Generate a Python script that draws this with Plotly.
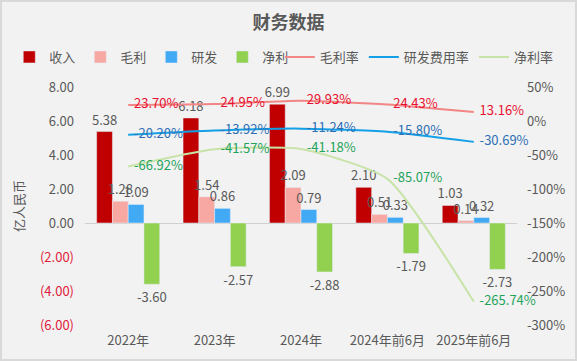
import plotly.graph_objects as go

categories = ["2022年", "2023年", "2024年", "2024年前6月", "2025年前6月"]
revenue = [5.38, 6.18, 6.99, 2.10, 1.03]
gross_profit = [1.28, 1.54, 2.09, 0.51, 0.14]
rnd = [1.09, 0.86, 0.79, 0.33, 0.32]
net_profit = [-3.60, -2.57, -2.88, -1.79, -2.73]
gross_margin = [23.70, 24.95, 29.93, 24.43, 13.16]
rnd_ratio = [-20.20, -13.92, -11.24, -15.80, -30.69]
net_margin = [-66.92, -41.57, -41.18, -85.07, -265.74]

left_ticks = [8, 6, 4, 2, 0, -2, -4, -6]
left_ticktext = ["8.00", "6.00", "4.00", "2.00", "0.00",
                 "<span style='color:#E0203A'>(2.00)</span>",
                 "<span style='color:#E0203A'>(4.00)</span>",
                 "<span style='color:#E0203A'>(6.00)</span>"]
right_ticks = [50, 0, -50, -100, -150, -200, -250, -300]
right_ticktext = ["50%", "0%", "-50%", "-100%", "-150%", "-200%", "-250%", "-300%"]

FONT = "Noto Sans CJK SC, Microsoft YaHei, sans-serif"
GRAY = "#595959"
PAD = "\u00a0\u00a0"

fig = go.Figure()

bar_specs = [
    ("收入", revenue, "#C00000"),
    ("毛利", gross_profit, "#F8A8A2"),
    ("研发", rnd, "#42A9F5"),
    ("净利", net_profit, "#92D050"),
]
for name, vals, color in bar_specs:
    fig.add_trace(go.Bar(
        name=name, x=categories, y=vals, marker_color=color,
        text=[f"{v:.2f}" for v in vals], textposition="outside",
        constraintext="none", cliponaxis=False,
        textfont=dict(size=13, color=GRAY, family=FONT),
        yaxis="y", legend="legend",
    ))

line_specs = [
    ("毛利率", gross_margin, "#F28585", "#E8102E"),
    ("研发费用率", rnd_ratio, "#14A0E6", "#2E6FB6"),
    ("净利率", net_margin, "#C8E3A8", "#1FA35A"),
]
for name, vals, color, tcolor in line_specs:
    fig.add_trace(go.Scatter(
        name=name, x=categories, y=vals, mode="lines+text",
        line=dict(color=color, width=2, shape="spline", smoothing=0.55),
        text=[PAD + f"{v:.2f}%" for v in vals], textposition="middle right",
        textfont=dict(size=13, color=tcolor, family=FONT),
        cliponaxis=False, yaxis="y2", legend="legend2",
    ))

legend_common = dict(orientation="h", yref="container", y=1 - 57 / 361, yanchor="middle",
                     xref="container", font=dict(size=13, color=GRAY, family=FONT),
                     itemwidth=30, tracegroupgap=0, bgcolor="rgba(0,0,0,0)")

fig.update_layout(
    width=577, height=361,
    margin=dict(l=85, r=60, t=87, b=36, autoexpand=False),
    paper_bgcolor="#F2F2F2", plot_bgcolor="#F2F2F2",
    font=dict(family=FONT, color=GRAY, size=13),
    barmode="group", bargap=0.27, bargroupgap=0,
    showlegend=True,
    title=dict(text="<b>财务数据</b>", x=0.5, xref="container", xanchor="center",
               y=1 - 23 / 361, yref="container", yanchor="middle",
               font=dict(size=18, color=GRAY, family=FONT)),
    legend=dict(x=0.51, xanchor="right", **legend_common),
    legend2=dict(x=0.485, xanchor="left", **legend_common),
    xaxis=dict(showgrid=False, showline=False, ticks="", tickfont=dict(size=13, color=GRAY),
               ticklabelstandoff=6, automargin=False),
    yaxis=dict(range=[-6, 8], tickvals=left_ticks, ticktext=left_ticktext,
               showgrid=False, zeroline=True, zerolinecolor="#D0D0D0", zerolinewidth=1,
               showline=False, tickfont=dict(size=13, color=GRAY),
               ticklabelstandoff=10, automargin=False,
               title=dict(text="亿人民币", font=dict(size=13, color=GRAY), standoff=12)),
    yaxis2=dict(range=[-300, 50], tickvals=right_ticks, ticktext=right_ticktext,
                overlaying="y", side="right", showgrid=False, zeroline=False,
                showline=False, tickfont=dict(size=13, color=GRAY), ticklabelstandoff=9,
                automargin=False),
    shapes=[dict(type="rect", xref="paper", yref="paper",
                 x0=(1 - 85) / 432, x1=(576 - 85) / 432,
                 y0=(325 - 360) / 238, y1=(325 - 1) / 238,
                 line=dict(color="#D9D9D9", width=2), fillcolor="rgba(0,0,0,0)", layer="below")],
)

fig.write_html("out.html", config={"displayModeBar": False},
               post_script="document.body.style.margin='0';document.body.style.background='#F2F2F2';")
